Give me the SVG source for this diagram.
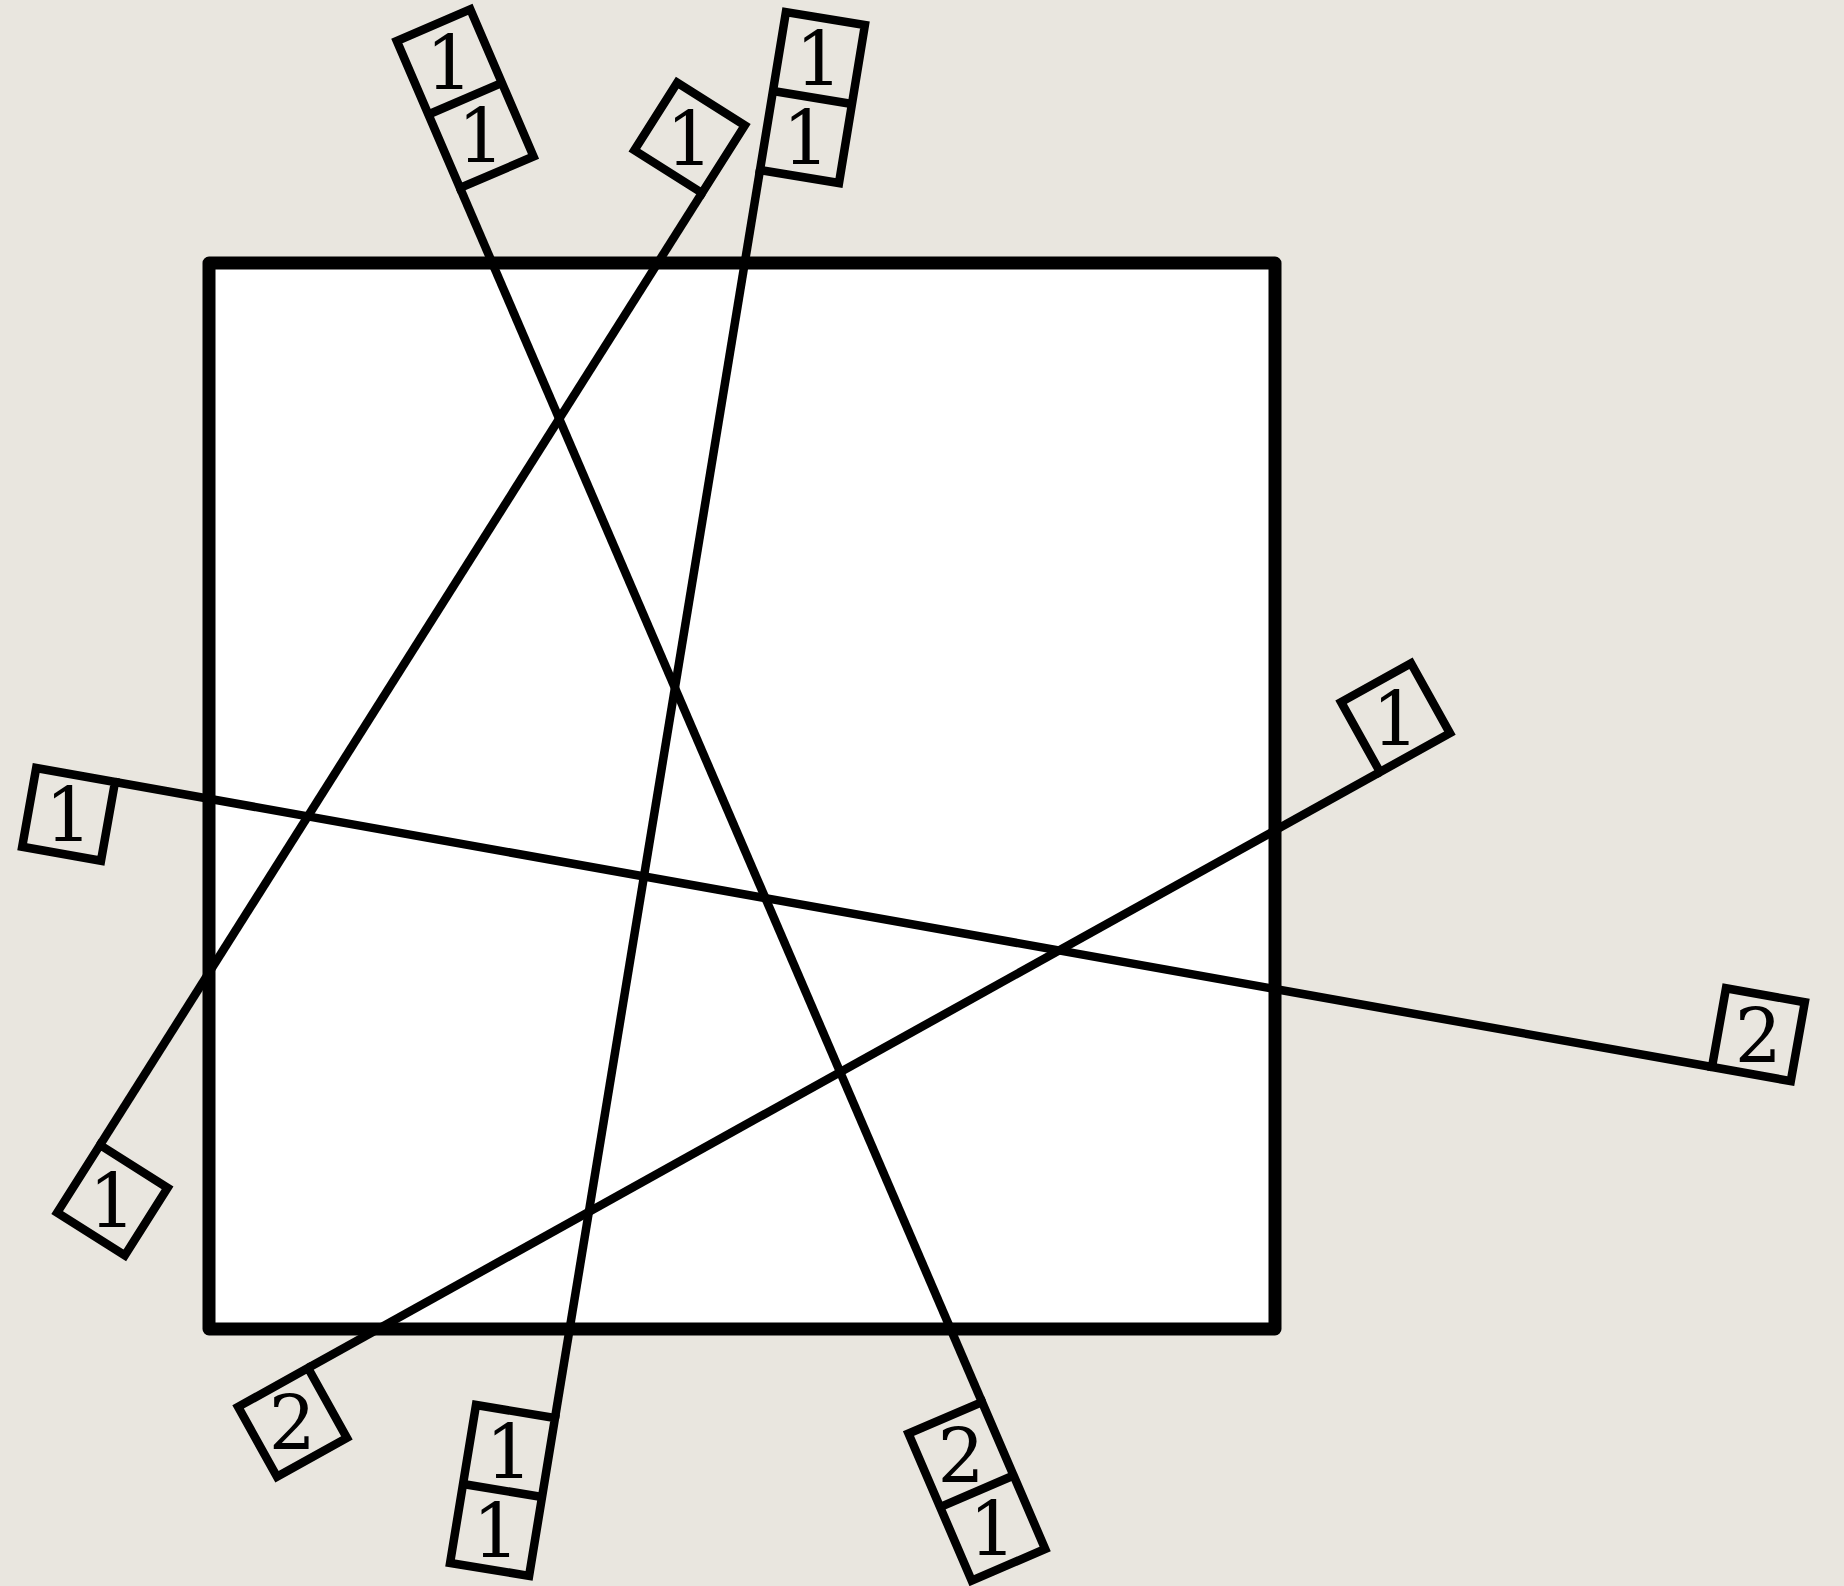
<svg xmlns="http://www.w3.org/2000/svg" width="1844" height="1586" viewBox="0 0 1844 1586">
  <style>
    .bg { fill: #e9e6df; }
    .sq { fill: #ffffff; stroke: #000000; stroke-width: 13; stroke-linejoin: round; }
    .ln { fill: none; stroke: #000000; stroke-width: 8.5; stroke-linecap: butt; }
    .bx { fill: none; stroke: #000000; stroke-width: 8.5; stroke-linejoin: miter; }
    .dv { stroke: #000000; stroke-width: 8.5; }
    .lb { font-family: "DejaVu Serif", "Liberation Serif", serif; font-size: 74px; fill: #000000; text-anchor: middle; }
  </style>
  <rect class="bg" x="0" y="0" width="1844" height="1586"/>
  <g id="square">
    <rect class="sq" x="209" y="263" width="1066" height="1066"/>
  </g>
  <g id="connectors">
    <line class="ln" x1="460" y1="188" x2="982" y2="1402"/>
    <line class="ln" x1="702" y1="193" x2="100" y2="1145"/>
    <line class="ln" x1="760" y1="170" x2="555" y2="1418"/>
    <line class="ln" x1="115" y1="782" x2="1712" y2="1067"/>
    <line class="ln" x1="308" y1="1368" x2="1380" y2="772"/>
  </g>
  <g id="labelA-top">
    <polygon class="bx" points="460,188 396.8,41 470.3,9.4 533.5,156.4"/>
    <line class="dv" x1="428.4" y1="114.5" x2="501.9" y2="82.9"/>
    <text class="lb" x="449.4" y="88.8">1</text>
    <text class="lb" x="481" y="162.3">1</text>
  </g>
  <g id="labelA-bottom">
    <polygon class="bx" points="982,1402 1045.2,1549 971.7,1580.6 908.5,1433.6"/>
    <line class="dv" x1="1013.6" y1="1475.5" x2="940.1" y2="1507.1"/>
    <text class="lb" x="961" y="1481.5">2</text>
    <text class="lb" x="992.6" y="1555">1</text>
  </g>
  <g id="labelB-top">
    <polygon class="bx" points="702,193 744.8,125.4 677.2,82.7 634.4,150.3"/>
    <text class="lb" x="689.6" y="164.7">1</text>
  </g>
  <g id="labelB-bottom">
    <polygon class="bx" points="100,1145 57.2,1212.6 124.8,1255.4 167.6,1187.8"/>
    <text class="lb" x="112.4" y="1227.1">1</text>
  </g>
  <g id="labelC-top">
    <polygon class="bx" points="760,170 785.9,12.1 864.9,25.1 839,183"/>
    <line class="dv" x1="773" y1="91" x2="852" y2="104"/>
    <text class="lb" x="818.9" y="85">1</text>
    <text class="lb" x="806" y="163.9">1</text>
  </g>
  <g id="labelC-bottom">
    <polygon class="bx" points="555,1418 529.1,1575.9 450.1,1562.9 476,1405"/>
    <line class="dv" x1="542" y1="1497" x2="463" y2="1484"/>
    <text class="lb" x="509" y="1477.9">1</text>
    <text class="lb" x="496.1" y="1556.8">1</text>
  </g>
  <g id="labelD-left">
    <polygon class="bx" points="115,782 36.2,768 22.2,846.8 101,860.8"/>
    <text class="lb" x="68.6" y="841.3">1</text>
  </g>
  <g id="labelD-right">
    <polygon class="bx" points="1712,1067 1790.8,1081.1 1804.8,1002.3 1726,988.2"/>
    <text class="lb" x="1758.4" y="1061.5">2</text>
  </g>
  <g id="labelE-left">
    <polygon class="bx" points="308,1368 238.1,1406.9 277,1476.8 346.9,1437.9"/>
    <text class="lb" x="292.4" y="1449.3">2</text>
  </g>
  <g id="labelE-right">
    <polygon class="bx" points="1380,772 1449.9,733.1 1411,663.2 1341.1,702.1"/>
    <text class="lb" x="1395.6" y="744.5">1</text>
  </g>
</svg>
